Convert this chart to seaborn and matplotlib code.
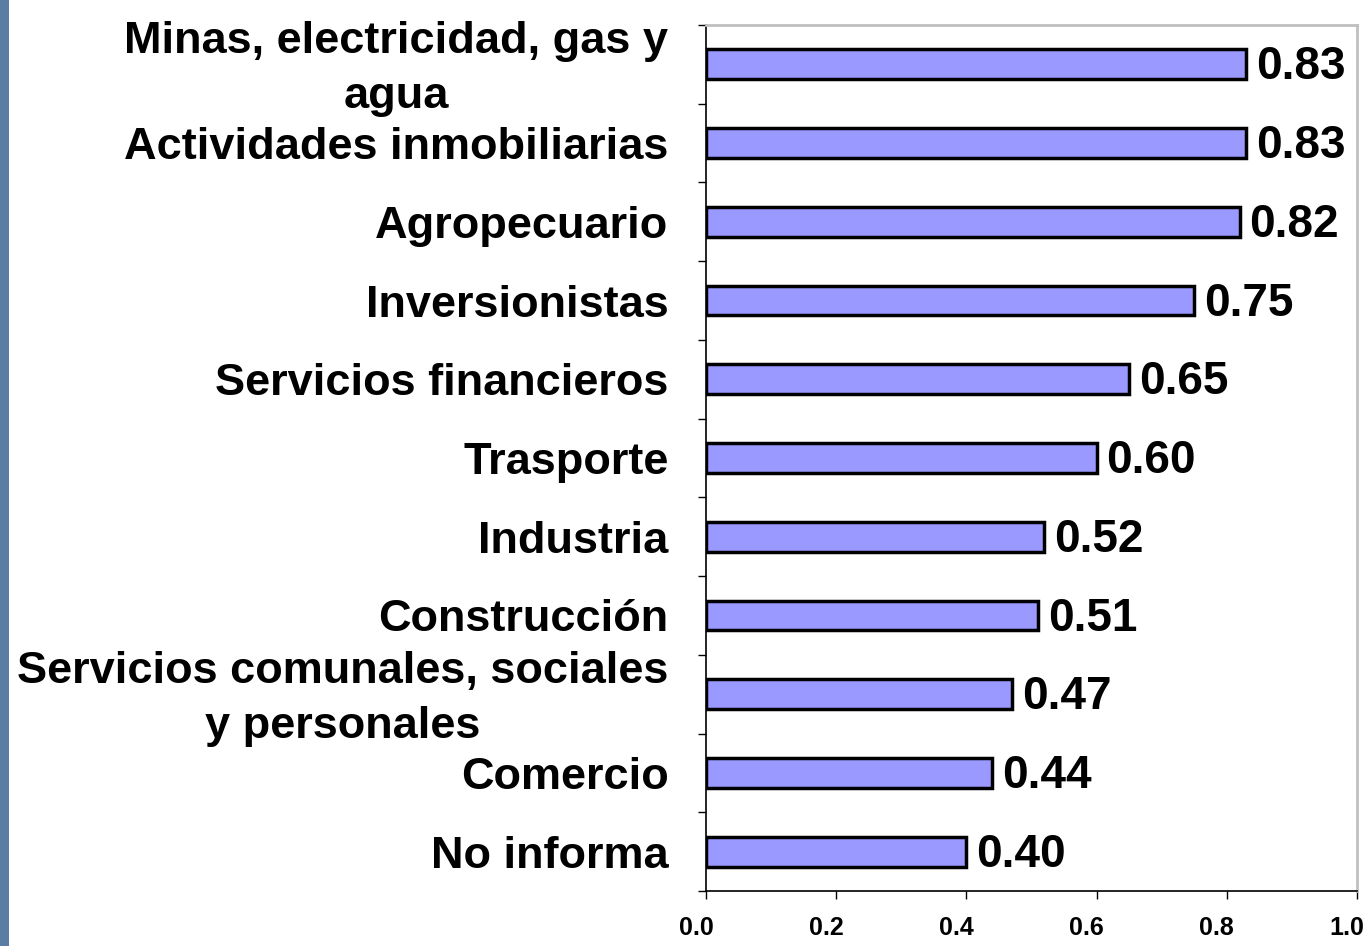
import numpy as np
import pandas as pd
import seaborn as sns
import matplotlib.pyplot as plt
from matplotlib.patches import Rectangle
from matplotlib.ticker import FixedLocator
from matplotlib.transforms import ScaledTranslation

# Datos
sectores = [
    "Minas, electricidad, gas y\nagua",
    "Actividades inmobiliarias",
    "Agropecuario",
    "Inversionistas",
    "Servicios financieros",
    "Trasporte",
    "Industria",
    "Construcción",
    "Servicios comunales, sociales\ny personales",
    "Comercio",
    "No informa",
]
valores = [0.83, 0.83, 0.82, 0.75, 0.65, 0.60, 0.52, 0.51, 0.47, 0.44, 0.40]
ticks_x = [0.0, 0.2, 0.4, 0.6, 0.8, 1.0]

datos = pd.DataFrame({"sector": sectores, "valor": valores})

sns.set_style("white")
plt.rcParams['font.family'] = ['Liberation Sans', 'DejaVu Sans']
plt.rcParams['text.color'] = 'black'
plt.rcParams['xtick.color'] = 'black'
plt.rcParams['ytick.color'] = 'black'

fig = plt.figure(figsize=(13.69, 9.46), dpi=100)
ax = fig.add_axes([0.5157, 0.0581, 0.9912 - 0.5157, 0.9736 - 0.0581])

sns.barplot(data=datos, x="valor", y="sector", color="#9999FF",
            edgecolor="black", linewidth=2.5, width=0.38, saturation=1, ax=ax)

n = len(sectores)
ax.set_xlim(0, 1.0)
ax.set_ylim(n - 0.5, -0.5)

# Etiquetas de valor
for i, v in enumerate(valores):
    ax.text(v + 0.015, i + 0.04, f"{v:.2f}", va="center", ha="left",
            fontsize=33, fontweight="bold", color="black")

# Ejes
ax.set_xlabel("")
ax.set_ylabel("")
ax.set_xticks(ticks_x)
ax.set_xticklabels([f"{t:.1f}" for t in ticks_x], fontsize=18, fontweight="bold")
ax.tick_params(axis="x", length=6, width=1, direction="out", pad=12, bottom=True)
for lbl in ax.get_xticklabels():
    lbl.set_transform(lbl.get_transform() + ScaledTranslation(-0.1, 0, fig.dpi_scale_trans))

ax.set_yticks(range(n))
ax.set_yticklabels(sectores, fontsize=32.5, fontweight="bold",
                   multialignment="center", linespacing=1.45)
ax.tick_params(axis="y", which="major", length=0, pad=27)
for lbl in ax.get_yticklabels():
    if "\n" in lbl.get_text():
        lbl.set_transform(lbl.get_transform() + ScaledTranslation(0, 0.07, fig.dpi_scale_trans))
ax.yaxis.set_minor_locator(FixedLocator(np.arange(-0.5, n, 1.0)))
ax.tick_params(axis="y", which="minor", length=6, width=1, left=True, direction="out")

for lado in ["left", "bottom"]:
    ax.spines[lado].set_color("black")
    ax.spines[lado].set_linewidth(1.2)
for lado in ["top", "right"]:
    ax.spines[lado].set_color("#c0c0c0")
    ax.spines[lado].set_linewidth(2)

# Franja azul a la izquierda
fig.patches.append(Rectangle((0, 0), 9 / 1369, 1, transform=fig.transFigure,
                             facecolor="#5B7CA3", edgecolor="none", zorder=0))

plt.savefig("out.png", dpi=100)
plt.close()
